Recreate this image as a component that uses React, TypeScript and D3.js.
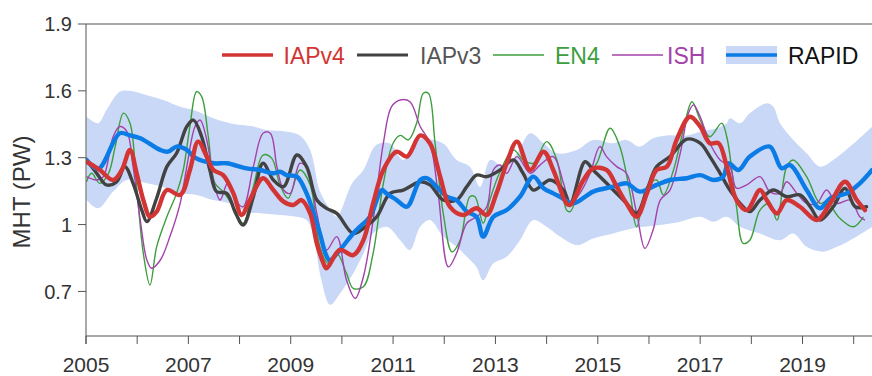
import React from "react";
import * as d3 from "d3";

const W = 872;
const H = 376;

const yTicks = [0.7, 1, 1.3, 1.6, 1.9];
const yTickLabels = ["0.7", "1", "1.3", "1.6", "1.9"];
const xTickYears = [2005, 2006, 2007, 2008, 2009, 2010, 2011, 2012, 2013, 2014, 2015, 2016, 2017, 2018, 2019, 2020];
const xLabelYears = [2005, 2007, 2009, 2011, 2013, 2015, 2017, 2019];

const legendNames = ["IAPv4", "IAPv3", "EN4", "ISH", "RAPID"];

const rapid: [number, number][] = [
  [2005.01, 1.29], [2005.24, 1.25], [2005.66, 1.41], [2005.86, 1.40], [2006.06, 1.387], [2006.45, 1.335],
  [2006.60, 1.327], [2006.77, 1.35], [2006.97, 1.335], [2007.13, 1.30], [2007.49, 1.275], [2007.75, 1.275],
  [2008.14, 1.252], [2008.40, 1.245], [2008.66, 1.23], [2008.79, 1.237], [2008.92, 1.222], [2009.12, 1.215],
  [2009.31, 1.14], [2009.45, 1.05], [2009.57, 0.96], [2009.68, 0.87], [2009.76, 0.84], [2009.96, 0.886],
  [2010.22, 0.96], [2010.35, 0.99], [2010.55, 1.035], [2010.78, 1.155], [2010.87, 1.14], [2011.07, 1.11],
  [2011.27, 1.08], [2011.53, 1.20], [2011.66, 1.208], [2011.85, 1.17], [2012.05, 1.125], [2012.24, 1.11],
  [2012.44, 1.058], [2012.63, 1.035], [2012.76, 0.946], [2012.96, 1.035], [2013.22, 1.065], [2013.48, 1.125],
  [2013.74, 1.215], [2013.94, 1.163], [2014.13, 1.14], [2014.26, 1.125], [2014.52, 1.095], [2014.91, 1.148],
  [2015.30, 1.17], [2015.56, 1.185], [2015.82, 1.148], [2016.15, 1.178], [2016.41, 1.20], [2016.74, 1.208],
  [2017.00, 1.222], [2017.26, 1.20], [2017.45, 1.215], [2017.55, 1.275], [2017.75, 1.245], [2017.97, 1.305],
  [2018.36, 1.35], [2018.59, 1.253], [2018.76, 1.267], [2019.08, 1.155], [2019.34, 1.073], [2019.54, 1.118],
  [2019.86, 1.14], [2020.12, 1.185], [2020.36, 1.245],
];

const rapidUpper: [number, number][] = [
  [2005.01, 1.484], [2005.24, 1.455], [2005.40, 1.514], [2005.66, 1.596], [2005.86, 1.60], [2006.19, 1.58],
  [2006.51, 1.559], [2006.84, 1.529], [2007.10, 1.514], [2007.49, 1.477], [2007.81, 1.455], [2008.27, 1.44],
  [2008.53, 1.424], [2008.92, 1.417], [2009.18, 1.40], [2009.38, 1.335], [2009.57, 1.15], [2009.77, 1.07],
  [2009.90, 1.035], [2010.20, 1.185], [2010.42, 1.245], [2010.67, 1.357], [2010.93, 1.365], [2011.20, 1.29],
  [2011.46, 1.38], [2011.79, 1.38], [2012.00, 1.36], [2012.24, 1.29], [2012.50, 1.26], [2012.70, 1.17],
  [2012.90, 1.29], [2013.16, 1.26], [2013.42, 1.32], [2013.68, 1.41], [2013.94, 1.365], [2014.20, 1.32],
  [2014.59, 1.335], [2014.91, 1.38], [2015.30, 1.365], [2015.56, 1.38], [2015.82, 1.35], [2016.08, 1.387],
  [2016.35, 1.40], [2016.74, 1.40], [2017.00, 1.417], [2017.32, 1.432], [2017.52, 1.455], [2017.58, 1.477],
  [2017.78, 1.455], [2017.97, 1.50], [2018.30, 1.544], [2018.43, 1.529], [2018.56, 1.455], [2018.82, 1.38],
  [2019.08, 1.32], [2019.34, 1.26], [2019.60, 1.29], [2019.93, 1.35], [2020.36, 1.44],
];

const rapidLower: [number, number][] = [
  [2005.01, 1.11], [2005.24, 1.073], [2005.53, 1.148], [2005.80, 1.20], [2006.19, 1.185], [2006.58, 1.163],
  [2006.84, 1.14], [2007.16, 1.133], [2007.49, 1.11], [2007.81, 1.095], [2008.14, 1.058], [2008.46, 1.05],
  [2008.79, 1.043], [2009.12, 1.035], [2009.31, 1.02], [2009.44, 0.95], [2009.60, 0.75], [2009.77, 0.64],
  [2009.96, 0.69], [2010.22, 0.78], [2010.42, 0.87], [2010.61, 0.96], [2010.88, 0.99], [2011.14, 0.93],
  [2011.33, 0.886], [2011.53, 0.99], [2011.72, 1.02], [2011.98, 0.946], [2012.24, 0.90], [2012.44, 0.856],
  [2012.63, 0.81], [2012.76, 0.75], [2012.96, 0.826], [2013.22, 0.856], [2013.48, 0.93], [2013.74, 1.02],
  [2014.00, 0.99], [2014.26, 0.946], [2014.59, 0.908], [2014.91, 0.938], [2015.30, 0.96], [2015.69, 0.983],
  [2016.22, 0.998], [2016.61, 1.013], [2017.00, 1.035], [2017.26, 1.013], [2017.52, 1.035], [2017.78, 0.99],
  [2018.17, 0.96], [2018.56, 0.93], [2018.82, 0.96], [2019.08, 0.90], [2019.41, 0.878], [2019.67, 0.90],
  [2019.93, 0.93], [2020.36, 0.99],
];

const iapv4: [number, number][] = [
  [2005.01, 1.282], [2005.27, 1.245], [2005.53, 1.20], [2005.70, 1.245], [2005.86, 1.335], [2005.99, 1.23],
  [2006.12, 1.11], [2006.25, 1.035], [2006.38, 1.058], [2006.58, 1.155], [2006.84, 1.133], [2007.03, 1.245],
  [2007.19, 1.372], [2007.36, 1.305], [2007.49, 1.245], [2007.68, 1.222], [2007.88, 1.14], [2008.04, 1.043],
  [2008.20, 1.11], [2008.46, 1.208], [2008.66, 1.155], [2008.86, 1.103], [2009.05, 1.088], [2009.21, 1.11],
  [2009.38, 1.05], [2009.51, 0.916], [2009.64, 0.826], [2009.70, 0.804], [2009.96, 0.886], [2010.22, 0.863],
  [2010.42, 0.93], [2010.61, 1.095], [2010.81, 1.245], [2011.07, 1.327], [2011.27, 1.305], [2011.53, 1.40],
  [2011.72, 1.365], [2011.92, 1.215], [2012.11, 1.08], [2012.37, 1.043], [2012.63, 1.073], [2012.83, 1.043],
  [2013.02, 1.14], [2013.22, 1.275], [2013.42, 1.372], [2013.68, 1.245], [2013.94, 1.327], [2014.13, 1.245],
  [2014.39, 1.095], [2014.46, 1.088], [2014.72, 1.20], [2014.91, 1.252], [2015.17, 1.245], [2015.37, 1.17],
  [2015.56, 1.095], [2015.76, 1.035], [2015.96, 1.14], [2016.15, 1.245], [2016.35, 1.26], [2016.54, 1.38],
  [2016.80, 1.484], [2017.00, 1.44], [2017.19, 1.365], [2017.36, 1.365], [2017.52, 1.26], [2017.71, 1.11],
  [2017.91, 1.065], [2018.17, 1.155], [2018.30, 1.11], [2018.50, 1.05], [2018.69, 1.11], [2018.95, 1.08],
  [2019.28, 1.02], [2019.54, 1.095], [2019.83, 1.192], [2020.06, 1.11], [2020.22, 1.065],
];

const iapv3: [number, number][] = [
  [2005.01, 1.29], [2005.21, 1.23], [2005.40, 1.178], [2005.60, 1.192], [2005.76, 1.26], [2005.92, 1.185],
  [2006.09, 1.065], [2006.19, 1.013], [2006.38, 1.118], [2006.58, 1.26], [2006.77, 1.32], [2006.97, 1.44],
  [2007.10, 1.469], [2007.26, 1.394], [2007.42, 1.245], [2007.55, 1.148], [2007.75, 1.14], [2007.91, 1.058],
  [2008.07, 0.998], [2008.27, 1.125], [2008.46, 1.275], [2008.66, 1.20], [2008.86, 1.17], [2009.12, 1.312],
  [2009.31, 1.26], [2009.51, 1.11], [2009.70, 1.073], [2009.90, 1.05], [2010.22, 0.96], [2010.42, 0.983],
  [2010.68, 1.035], [2010.94, 1.14], [2011.20, 1.155], [2011.53, 1.192], [2011.72, 1.178], [2011.98, 1.11],
  [2012.24, 1.11], [2012.44, 1.17], [2012.63, 1.222], [2012.83, 1.215], [2013.09, 1.245], [2013.35, 1.29],
  [2013.54, 1.23], [2013.74, 1.155], [2014.07, 1.20], [2014.33, 1.155], [2014.46, 1.095], [2014.75, 1.282],
  [2014.91, 1.245], [2015.24, 1.17], [2015.56, 1.095], [2015.76, 1.05], [2015.96, 1.155], [2016.15, 1.26],
  [2016.41, 1.305], [2016.74, 1.383], [2017.00, 1.365], [2017.19, 1.305], [2017.39, 1.23], [2017.58, 1.155],
  [2017.84, 1.08], [2017.97, 1.058], [2018.17, 1.11], [2018.43, 1.155], [2018.69, 1.125], [2018.95, 1.133],
  [2019.15, 1.08], [2019.34, 1.02], [2019.60, 1.08], [2019.83, 1.163], [2020.03, 1.08], [2020.25, 1.08],
];

const en4: [number, number][] = [
  [2005.01, 1.192], [2005.11, 1.23], [2005.27, 1.185], [2005.44, 1.23], [2005.57, 1.35], [2005.73, 1.50],
  [2005.86, 1.455], [2005.99, 1.17], [2006.12, 0.871], [2006.25, 0.729], [2006.38, 0.90], [2006.58, 1.035],
  [2006.77, 1.14], [2006.90, 1.245], [2007.03, 1.44], [2007.16, 1.596], [2007.26, 1.574], [2007.39, 1.394],
  [2007.52, 1.185], [2007.68, 1.148], [2007.88, 1.08], [2008.07, 1.006], [2008.27, 1.17], [2008.46, 1.312],
  [2008.63, 1.297], [2008.79, 1.178], [2008.95, 1.118], [2009.18, 1.245], [2009.38, 1.178], [2009.57, 0.90],
  [2009.73, 0.826], [2009.90, 0.871], [2010.09, 0.781], [2010.22, 0.714], [2010.42, 0.721], [2010.61, 0.871],
  [2010.81, 1.185], [2011.00, 1.365], [2011.14, 1.40], [2011.30, 1.38], [2011.46, 1.455], [2011.59, 1.589],
  [2011.69, 1.589], [2011.82, 1.365], [2011.98, 1.05], [2012.15, 0.878], [2012.31, 0.93], [2012.50, 1.125],
  [2012.60, 1.125], [2012.76, 1.006], [2012.89, 1.11], [2013.09, 1.237], [2013.35, 1.335], [2013.54, 1.29],
  [2013.74, 1.275], [2014.00, 1.372], [2014.20, 1.29], [2014.39, 1.065], [2014.46, 1.058], [2014.72, 1.20],
  [2014.98, 1.275], [2015.24, 1.432], [2015.43, 1.35], [2015.63, 1.14], [2015.76, 0.99], [2015.96, 1.17],
  [2016.15, 1.20], [2016.28, 1.133], [2016.48, 1.245], [2016.67, 1.424], [2016.84, 1.551], [2017.00, 1.469],
  [2017.19, 1.394], [2017.42, 1.455], [2017.52, 1.394], [2017.71, 1.08], [2017.84, 0.916], [2017.97, 0.93],
  [2018.17, 1.065], [2018.36, 1.095], [2018.50, 1.02], [2018.69, 1.26], [2018.82, 1.29], [2019.08, 1.215],
  [2019.34, 1.095], [2019.47, 1.103], [2019.73, 1.028], [2019.99, 0.99], [2020.19, 1.035],
];

const ish: [number, number][] = [
  [2005.01, 1.215], [2005.21, 1.20], [2005.34, 1.215], [2005.53, 1.394], [2005.66, 1.44], [2005.80, 1.417],
  [2005.92, 1.26], [2006.06, 1.02], [2006.19, 0.84], [2006.28, 0.804], [2006.45, 0.84], [2006.64, 0.946],
  [2006.84, 1.095], [2006.97, 1.26], [2007.13, 1.44], [2007.23, 1.469], [2007.36, 1.38], [2007.49, 1.20],
  [2007.62, 1.11], [2007.78, 1.192], [2007.94, 1.103], [2008.07, 1.08], [2008.27, 1.26], [2008.46, 1.41],
  [2008.60, 1.41], [2008.73, 1.26], [2008.86, 1.155], [2008.99, 1.14], [2009.18, 1.275], [2009.34, 1.245],
  [2009.51, 1.05], [2009.70, 0.886], [2009.90, 0.946], [2010.09, 0.751], [2010.26, 0.669], [2010.42, 0.766],
  [2010.61, 1.02], [2010.81, 1.365], [2010.97, 1.529], [2011.14, 1.559], [2011.33, 1.551], [2011.53, 1.44],
  [2011.72, 1.365], [2011.88, 1.14], [2012.08, 0.81], [2012.24, 0.871], [2012.44, 1.006], [2012.63, 1.035],
  [2012.83, 1.08], [2012.96, 1.245], [2013.09, 1.267], [2013.22, 1.23], [2013.42, 1.305], [2013.68, 1.23],
  [2013.87, 1.267], [2014.13, 1.305], [2014.33, 1.185], [2014.46, 1.095], [2014.65, 1.14], [2014.85, 1.23],
  [2015.04, 1.35], [2015.17, 1.305], [2015.37, 1.26], [2015.56, 1.23], [2015.76, 1.05], [2015.92, 0.893],
  [2016.08, 0.976], [2016.22, 1.11], [2016.41, 1.155], [2016.61, 1.32], [2016.77, 1.50], [2016.87, 1.537],
  [2017.00, 1.484], [2017.19, 1.365], [2017.39, 1.29], [2017.58, 1.26], [2017.71, 1.163], [2017.91, 1.178],
  [2018.17, 1.215], [2018.36, 1.148], [2018.56, 1.14], [2018.69, 1.192], [2018.89, 1.14], [2019.08, 1.095],
  [2019.28, 1.095], [2019.47, 1.155], [2019.67, 1.095], [2019.93, 1.11], [2020.12, 1.035], [2020.22, 1.02],
];

const COLORS = {
  iapv4: "#d33434",
  iapv3: "#424242",
  en4: "#3c9e3c",
  ish: "#a342aa",
  rapid: "#0b7be6",
  band: "#c8d8f6",
  axis: "#555555",
  text: "#333333",
};

export default function App() {
  const x = d3.scaleLinear().domain([2005, 2020.4]).range([86, 86 + 15.4 * 51.18]);
  const y = d3.scaleLinear().domain([0.5, 1.9]).range([336, 24]);

  const line = d3
    .line<[number, number]>()
    .x((d) => x(d[0]))
    .y((d) => y(d[1]))
    .curve(d3.curveCatmullRom.alpha(0.5));

  const bandPath =
    (line(rapidUpper) as string) +
    (line(rapidLower.slice().reverse()) as string).replace(/^M/, "L") +
    "Z";

  const axisLeft = x(2005);
  const yTop = y(1.9);
  const yBottom = y(0.5);

  const legendItems = [
    { name: legendNames[0], color: COLORS.iapv4, text: COLORS.iapv4, w: 3.6, x0: 222, tx: 283.5 },
    { name: legendNames[1], color: COLORS.iapv3, text: "#555555", w: 3.2, x0: 357, tx: 420 },
    { name: legendNames[2], color: COLORS.en4, text: COLORS.en4, w: 1.4, x0: 493, tx: 555 },
    { name: legendNames[3], color: COLORS.ish, text: COLORS.ish, w: 1.4, x0: 612, tx: 667 },
  ];

  return (
    <svg
      width={W}
      height={H}
      style={{ position: "absolute", left: 0, top: 0, background: "#fff" }}
      fontFamily="'Liberation Sans', Arial, sans-serif"
    >
      <rect x={0} y={0} width={W} height={H} fill="#fff" />
      <defs>
        <clipPath id="plot">
          <rect x={axisLeft} y={yTop} width={W - axisLeft} height={yBottom - yTop} />
        </clipPath>
      </defs>

      <g clipPath="url(#plot)">
        <path d={bandPath} fill={COLORS.band} stroke="none" />
        <path d={line(en4) as string} fill="none" stroke={COLORS.en4} strokeWidth={1.4} strokeLinejoin="round" />
        <path d={line(ish) as string} fill="none" stroke={COLORS.ish} strokeWidth={1.4} strokeLinejoin="round" />
        <path d={line(iapv3) as string} fill="none" stroke={COLORS.iapv3} strokeWidth={3.4} strokeLinejoin="round" strokeLinecap="round" />
        <path d={line(rapid) as string} fill="none" stroke={COLORS.rapid} strokeWidth={4.4} strokeLinejoin="round" strokeLinecap="round" />
        <path d={line(iapv4) as string} fill="none" stroke={COLORS.iapv4} strokeWidth={4.4} strokeLinejoin="round" strokeLinecap="round" />
      </g>

      {/* frame lines */}
      <line x1={axisLeft} x2={W} y1={yTop} y2={yTop} stroke={COLORS.axis} strokeWidth={1} />
      <line x1={axisLeft} x2={W} y1={yBottom} y2={yBottom} stroke={COLORS.axis} strokeWidth={1} />
      <line x1={axisLeft} x2={axisLeft} y1={yTop} y2={yBottom + 8} stroke={COLORS.axis} strokeWidth={1} />

      {/* y ticks */}
      {yTicks.map((v, i) => (
        <g key={"yt" + v}>
          <line x1={axisLeft - 8} x2={axisLeft} y1={y(v)} y2={y(v)} stroke={COLORS.axis} strokeWidth={1} />
          <text x={axisLeft - 14} y={y(v)} dy="0.36em" textAnchor="end" fontSize={20} fill={COLORS.text}>
            {yTickLabels[i]}
          </text>
        </g>
      ))}

      {/* x ticks */}
      {xTickYears.map((yr) => (
        <line key={"xt" + yr} x1={x(yr)} x2={x(yr)} y1={yBottom} y2={yBottom + 8} stroke={COLORS.axis} strokeWidth={1} />
      ))}
      {xLabelYears.map((yr) => (
        <text key={"xl" + yr} x={x(yr)} y={371.5} textAnchor="middle" fontSize={21} fill={COLORS.text}>
          {String(yr)}
        </text>
      ))}

      {/* y label */}
      <text
        transform={`translate(30, 192) rotate(-90)`}
        textAnchor="middle"
        fontSize={24}
        fill={COLORS.text}
      >
        MHT (PW)
      </text>

      {/* legend */}
      {legendItems.map((it) => (
        <g key={it.name}>
          <line x1={it.x0} x2={it.x0 + 51} y1={55} y2={55} stroke={it.color} strokeWidth={it.w} />
          <text x={it.tx} y={64.3} fontSize={23} fill={it.text}>
            {it.name}
          </text>
        </g>
      ))}
      <rect x={726} y={46} width={51} height={18} fill={COLORS.band} />
      <line x1={726} x2={777} y1={55} y2={55} stroke={COLORS.rapid} strokeWidth={3.6} />
      <text x={788} y={64.3} fontSize={23} fill="#111">
        {legendNames[4]}
      </text>
    </svg>
  );
}
